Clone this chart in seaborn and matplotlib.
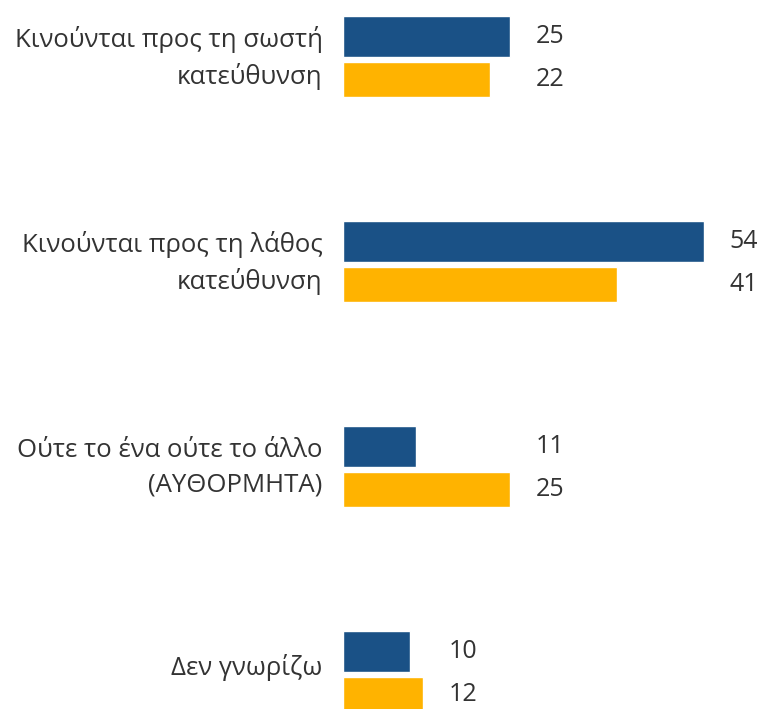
import matplotlib
matplotlib.use("Agg")
import matplotlib.pyplot as plt
import pandas as pd
import seaborn as sns

categories = [
    "Κινούνται προς τη σωστή\nκατεύθυνση",
    "Κινούνται προς τη λάθος\nκατεύθυνση",
    "Ούτε το ένα ούτε το άλλο\n(ΑΥΘΟΡΜΗΤΑ)",
    "Δεν γνωρίζω",
]
series_names = ["Έρευνα 1", "Έρευνα 2"]
values_1 = [25, 54, 11, 10]
values_2 = [22, 41, 25, 12]
colors = ["#1a5186", "#ffb300"]

df = pd.DataFrame({
    "category": categories * 2,
    "series": [series_names[0]] * 4 + [series_names[1]] * 4,
    "value": values_1 + values_2,
})

sns.set_style("white")
plt.rcParams["font.family"] = ["Open Sans", "DejaVu Sans"]

fig = plt.figure(figsize=(7.58, 7.09), dpi=100)
ax = fig.add_axes([343 / 758, 0, 1 - 343 / 758, 1])

sns.barplot(data=df, y="category", x="value", hue="series", order=categories,
            hue_order=series_names, palette=colors, width=0.4, orient="h",
            legend=False, ax=ax, saturation=1)

# second series bars are a bit thinner, with a small gap under the first
for p in ax.containers[1]:
    y0 = p.get_y()
    p.set_y(y0 + 5 / 205)
    p.set_height(35 / 205)

for i in range(len(categories)):
    xpos = max(values_1[i], values_2[i]) + 3.8
    for cont, vals in zip(ax.containers, [values_1, values_2]):
        p = cont[i]
        ax.text(xpos, p.get_y() + p.get_height() / 2, str(vals[i]),
                ha="left", va="center", fontsize=18, color="#333333")

ax.set_xlim(0, 415 / 6.68)
ax.set_ylim((709 - 57) / 205, -57 / 205)
ax.set_xlabel("")
ax.set_ylabel("")
ax.set_xticks([])
ax.tick_params(axis="y", length=0, pad=14.5)
ax.set_yticks([i - 0.035 for i in range(len(categories))])
ax.set_yticklabels(categories, fontsize=18.5, color="#333333", ha="right",
                   linespacing=1.5)
for s in ax.spines.values():
    s.set_visible(False)

fig.savefig("out.png", dpi=100)
